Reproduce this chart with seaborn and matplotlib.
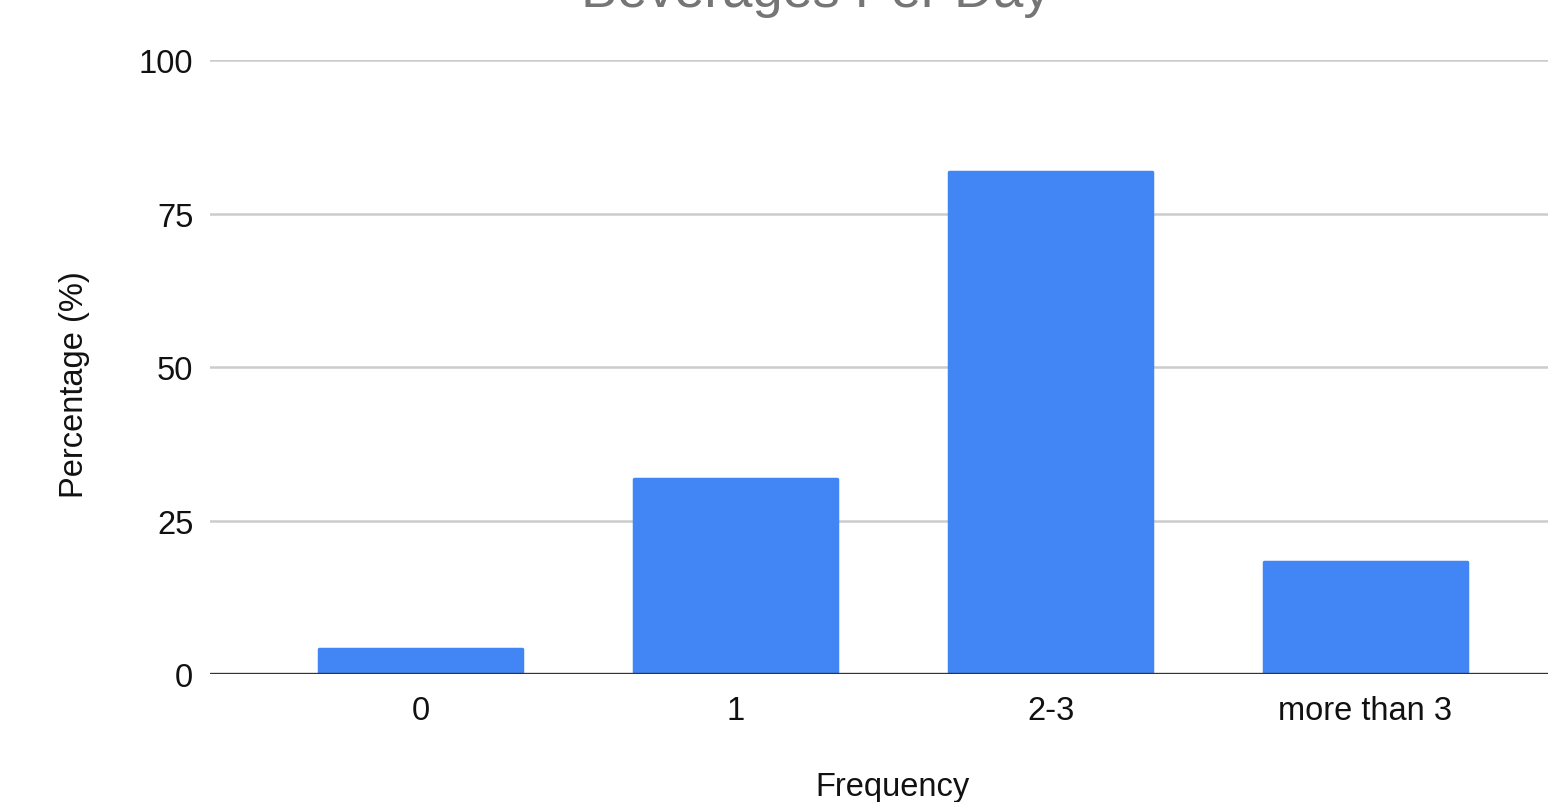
import matplotlib
matplotlib.use("Agg")
import matplotlib.pyplot as plt
import seaborn as sns
import pandas as pd

categories = ["0", "1", "2-3", "more than 3"]
percentages = [4.1, 31.8, 81.8, 18.2]
y_ticks = [0, 25, 50, 75, 100]

sns.set_theme(style="white")
plt.rcParams["font.family"] = ["Liberation Sans", "DejaVu Sans"]

df = pd.DataFrame({"Frequency": categories, "Percentage": percentages})

W, H = 1548, 803
fig = plt.figure(figsize=(W / 100, H / 100), dpi=100)
ax = fig.add_axes([210 / W, 1 - 675 / H, 1 - 210 / W, (675 - 61) / H])

sns.barplot(data=df, x="Frequency", y="Percentage", color="#4285F4",
            saturation=1, width=0.645, ax=ax, zorder=3)
for p in ax.patches:
    p.set_edgecolor("#4285F4")
    p.set_linewidth(2.5)
    p.set_joinstyle("round")

ax.set_ylim(0, 100)
ax.set_xlim(-0.67, 3.58)
ax.set_yticks(y_ticks)
ax.set_yticklabels([str(t) for t in y_ticks])
ax.yaxis.grid(True, color="#cccccc", linewidth=1.8, zorder=0)
ax.axhline(0, color="#333333", linewidth=2.4, zorder=4)
for s in ax.spines.values():
    s.set_visible(False)
ax.tick_params(axis="both", length=0, labelsize=23.5, colors="#111111")
ax.tick_params(axis="y", pad=12)
ax.tick_params(axis="x", pad=15)
ax.set_xlabel("")
ax.set_ylabel("")

fig.text(893 / W, 1 - 796 / H, "Frequency", ha="center", va="baseline",
         fontsize=23.5, color="#111111")
fig.text(75 / W, 1 - 385 / H, "Percentage (%)", ha="center", va="center",
         rotation=90, fontsize=23.5, color="#111111")
fig.text(816 / W, 1 - 7 / H, "Beverages Per Day", ha="center", va="baseline",
         fontsize=39, color="#757575")

fig.savefig("out.png", dpi=100, facecolor="white")
